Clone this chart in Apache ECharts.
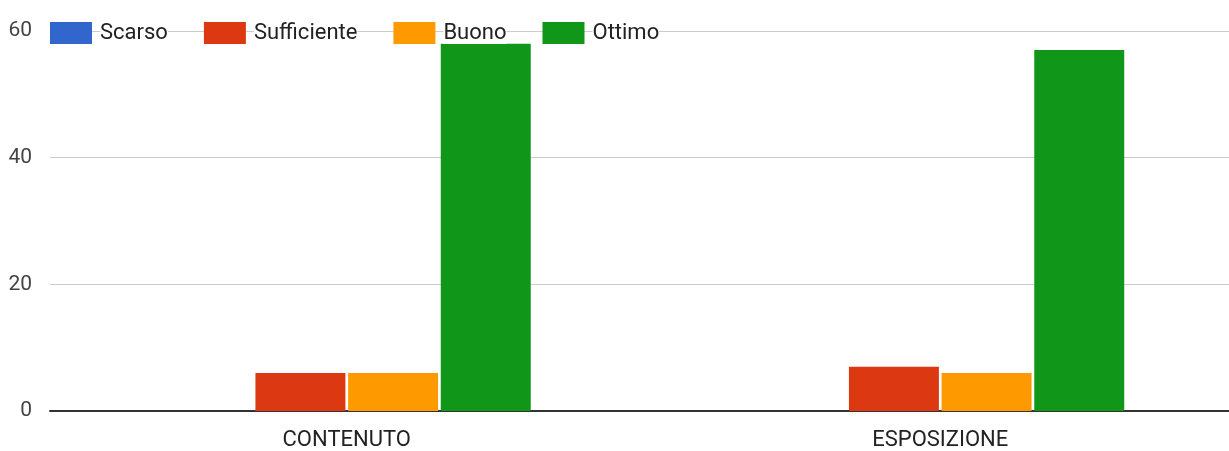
<!DOCTYPE html>
<html>
<head>
<meta charset="utf-8">
<script src="https://cdn.jsdelivr.net/npm/echarts@6/dist/echarts.min.js"></script>
<style>html,body{margin:0;padding:0;background:#fff;}#c{width:1229px;height:451px;}</style>
</head>
<body>
<div id="c"></div>
<script>
const categories = ['CONTENUTO', 'ESPOSIZIONE'];
const seriesNames = ['Scarso', 'Sufficiente', 'Buono', 'Ottimo'];
const scarso = [0, 0];
const sufficiente = [6, 7];
const buono = [6, 6];
const ottimo = [58, 57];
const yTicks = [0, 20, 40, 60];
const colors = ['#3366cc', '#dc3912', '#ff9900', '#109618'];
const values = [scarso, sufficiente, buono, ottimo];

const chart = echarts.init(document.getElementById('c'));
const font = 'Roboto, "Liberation Sans", Arial, sans-serif';
chart.setOption({
  animation: false,
  color: colors,
  legend: {
    left: 50, top: 22, padding: 0,
    itemWidth: 42, itemHeight: 22, itemGap: 36,
    icon: 'rect',
    formatter: n => '{g|}{t|' + n + '}',
    textStyle: {
      fontFamily: font, fontSize: 22, color: '#222',
      rich: {
        g: { width: 3 },
        t: { fontFamily: font, fontSize: 22, color: '#222', backgroundColor: '#fff' }
      }
    },
    data: seriesNames
  },
  grid: { left: 50, width: 1187, top: 31, bottom: 40, outerBoundsMode: 'none', containLabel: false },
  xAxis: {
    type: 'category', data: categories,
    axisLine: { lineStyle: { color: '#333', width: 2 } },
    axisTick: { show: false },
    axisLabel: { fontFamily: font, fontSize: 22, color: '#222', margin: 18 }
  },
  yAxis: {
    type: 'value', min: yTicks[0], max: yTicks[yTicks.length - 1], interval: 20,
    axisLine: { show: false }, axisTick: { show: false },
    axisLabel: { fontFamily: font, fontSize: 21, color: '#444', margin: 18 },
    splitLine: { lineStyle: { color: '#cccccc', width: 1 } }
  },
  series: seriesNames.map((n, i) => ({
    name: n, type: 'bar', data: values[i],
    barCategoryGap: '38%', barGap: '3%',
    itemStyle: { color: colors[i] }
  }))
});
</script>
</body>
</html>
